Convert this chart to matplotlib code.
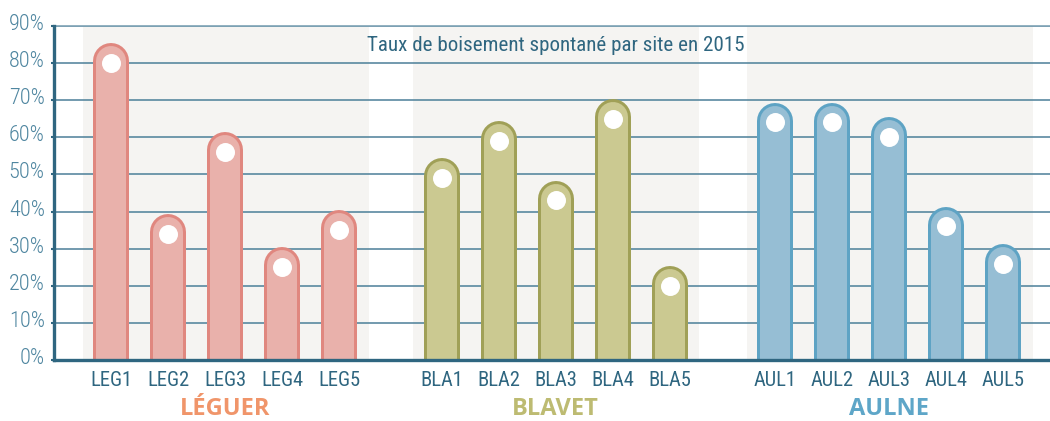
import matplotlib
matplotlib.use("Agg")
import matplotlib.pyplot as plt
import matplotlib.transforms as mtransforms
import matplotlib.font_manager as fm

# Spontaneous afforestation rate (%) per site, 2015
groups = ["LÉGUER", "BLAVET", "AULNE"]
sites_leguer = ["LEG1", "LEG2", "LEG3", "LEG4", "LEG5"]
sites_blavet = ["BLA1", "BLA2", "BLA3", "BLA4", "BLA5"]
sites_aulne = ["AUL1", "AUL2", "AUL3", "AUL4", "AUL5"]
values_leguer = [80, 34, 56, 25, 35]
values_blavet = [49, 59, 43, 65, 20]
values_aulne = [64, 64, 60, 36, 26]
yticks = [0, 10, 20, 30, 40, 50, 60, 70, 80, 90]

title = "Taux de boisement spontané par site en 2015"

# styling
fill_colors = ["#e9b1ab", "#cbc991", "#96bed4"]
edge_colors = ["#e0877f", "#a0a057", "#5ea3c4"]
label_colors = ["#f0956a", "#bdbb72", "#5ea6c8"]
dark = "#2f6680"
light_text = "#4f86a0"
grid_col = "#4b7f99"
band_col = "#f5f4f2"

# pick the narrowest sans family available
installed = {f.name for f in fm.fontManager.ttflist}
narrow_name, narrow_stretch = "Roboto", "normal"
for cand in ["Liberation Sans Narrow", "Roboto Condensed", "Open Sans Condensed",
             "Arial Narrow"]:
    if cand in installed:
        narrow_name = cand
        break
else:
    if any(f.name == "DejaVu Sans" and str(f.stretch) in ("condensed", "semi-condensed")
           for f in fm.fontManager.ttflist):
        narrow_name, narrow_stretch = "DejaVu Sans", "condensed"
narrow = [narrow_name, "DejaVu Sans"]
wide_bold = ["Open Sans", "DejaVu Sans"]

W, H, DPI = 10.5, 4.21, 100
fig = plt.figure(figsize=(W, H), dpi=DPI)
renderer = fig.canvas.get_renderer()


def fit_size(text, family, target_px, weight="normal", stretch="normal"):
    t = fig.text(0, 0, text, family=family, fontsize=10, fontweight=weight,
                 fontstretch=stretch)
    w = t.get_window_extent(renderer=renderer).width
    t.remove()
    return 10 * target_px / w


ytick_size = fit_size("90%", narrow, 36, "light", narrow_stretch)
xtick_size = fit_size("LEG1", narrow, 42, "normal", narrow_stretch)
title_size = fit_size(title, narrow, 374, "normal", narrow_stretch)
group_size = fit_size("LÉGUER", wide_bold, 90, "bold")

ax = fig.add_axes([54 / 1050, (421 - 360) / 421, 1 - 54 / 1050, 334 / 421])

group_offsets = [0.0, 5.8, 11.65]
all_sites = [sites_leguer, sites_blavet, sites_aulne]
all_values = [values_leguer, values_blavet, values_aulne]

px_to_pt = 72 / DPI
tick_pos, tick_lab = [], []
for g, (off, sites, vals) in enumerate(zip(group_offsets, all_sites, all_values)):
    xs = [off + i for i in range(len(sites))]
    ax.axvspan(xs[0] - 0.5, xs[-1] + 0.52, color=band_col, zorder=0, lw=0)
    for x, v in zip(xs, vals):
        ax.plot([x, x], [-5, v + 0.5], color=edge_colors[g], lw=36 * px_to_pt,
                solid_capstyle="round", zorder=3)
        ax.plot([x, x], [-5, v + 0.5], color=fill_colors[g], lw=30 * px_to_pt,
                solid_capstyle="round", zorder=4)
        ax.plot([x], [v], "o", color="white", ms=19 * px_to_pt, mec="none", zorder=5)
    tick_pos += xs
    tick_lab += sites
    center = (xs[0] + xs[-1]) / 2
    ax.text(center, -0.148, groups[g], transform=ax.get_xaxis_transform(),
            ha="center", va="center", fontsize=group_size, fontweight="bold",
            family=wide_bold, color=label_colors[g])

ax.set_xlim(-1.0, 16.47)
ax.set_ylim(0, 90)

ax.set_yticks(yticks)
ax.set_yticklabels([f"{t}%" for t in yticks], family=narrow, fontsize=ytick_size,
                   fontweight="light", fontstretch=narrow_stretch, color=light_text)
ax.set_xticks(tick_pos)
ax.set_xticklabels(tick_lab, family=narrow, fontsize=xtick_size,
                   fontstretch=narrow_stretch, color=dark)
ax.tick_params(axis="x", length=0, pad=8.0)
ax.tick_params(axis="y", length=3 * px_to_pt, width=1.5, color=dark, pad=4.5)
shift = mtransforms.ScaledTranslation(0, 4 / DPI, fig.dpi_scale_trans)
for lab in ax.get_yticklabels():
    lab.set_transform(lab.get_transform() + shift)

ax.yaxis.grid(True, color=grid_col, lw=1.1, zorder=1)
ax.set_axisbelow(True)
ax.spines["right"].set_visible(False)
ax.spines["top"].set_color("#7fa3b5")
ax.spines["top"].set_linewidth(1.2)
for s in ["left", "bottom"]:
    ax.spines[s].set_color(dark)
    ax.spines[s].set_linewidth(2.4)
    ax.spines[s].set_zorder(6)

ax.text(7.8, 0.943, title, transform=ax.get_xaxis_transform(), ha="center",
        va="center", family=narrow, fontsize=title_size,
        fontstretch=narrow_stretch, color=dark, zorder=7)

fig.savefig("out.png", dpi=DPI)
